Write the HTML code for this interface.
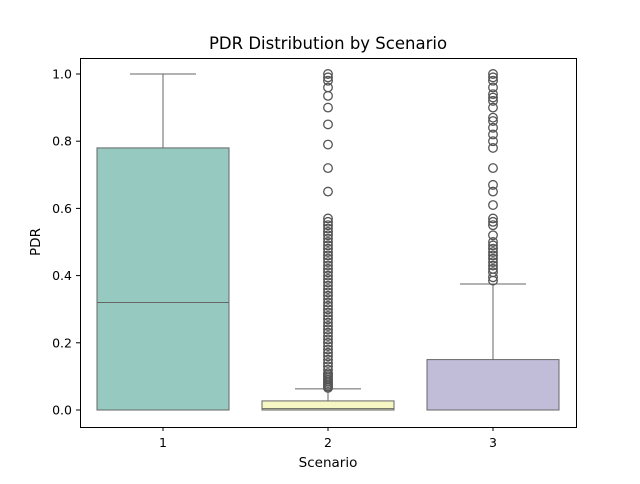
<!DOCTYPE html>
<html><head><meta charset="utf-8"><style>
body{margin:0;background:#fff;font-family:"DejaVu Sans","Liberation Sans",sans-serif}
</style></head><body>
<svg id="chart" width="640" height="480" xmlns="http://www.w3.org/2000/svg">
<rect width="640" height="480" fill="#fff"/>
<text x="328" y="49" text-anchor="middle" font-size="16.5">PDR Distribution by Scenario</text>
<text x="328" y="467" text-anchor="middle" font-size="13.5">Scenario</text>
<text x="40" y="242" text-anchor="middle" font-size="13.5" transform="rotate(-90 40 242)">PDR</text>
<g id="plot"></g>
<rect x="80.5" y="58.5" width="496" height="369" fill="none" stroke="#000" stroke-width="1"/>
</svg>
<script>
const categories = ["1","2","3"];
const q1 = [0, 0, 0];
const medians = [0.32, 0.004, 0.0];
const q3 = [0.78, 0.027, 0.15];
const whiskLo = [0, 0, 0];
const whiskHi = [1.0, 0.063, 0.375];
const colors = ["#96cac0","#f7f7c4","#c1bdd9"];
const yTicks = [0, 0.2, 0.4, 0.6, 0.8, 1.0];
const yTickLabels = ["0.0","0.2","0.4","0.6","0.8","1.0"];
const outliers2 = [0.066,0.07,0.075,0.08,0.085,0.09,0.095,0.1,0.105,0.11,0.12,0.13,0.14,0.15,0.16,0.17,0.18,0.19,0.2,0.21,0.22,0.23,0.24,0.25,0.26,0.27,0.28,0.29,0.3,0.31,0.32,0.33,0.34,0.35,0.36,0.37,0.38,0.39,0.4,0.41,0.42,0.43,0.44,0.45,0.46,0.47,0.48,0.49,0.5,0.51,0.52,0.53,0.54,0.55,0.56,0.57,0.65,0.72,0.79,0.85,0.9,0.935,0.96,0.98,0.99,1.0];
const outliers3 = [0.385,0.395,0.41,0.42,0.43,0.44,0.45,0.46,0.47,0.48,0.49,0.5,0.52,0.55,0.56,0.57,0.61,0.65,0.67,0.72,0.78,0.8,0.82,0.84,0.86,0.87,0.9,0.92,0.93,0.94,0.96,0.98,0.99,1.0];
const outliers = [[], outliers2, outliers3];

const NS="http://www.w3.org/2000/svg";
const g=document.getElementById('plot');
const y=v=>410-v*336;
const xc=i=>163+i*165;
const bw=132;
function mk(tag,attrs){const e=document.createElementNS(NS,tag);for(const k in attrs)e.setAttribute(k,attrs[k]);g.appendChild(e);return e;}
yTicks.forEach((t,i)=>{
  const l=mk('line',{x1:76,x2:80,y1:y(t),y2:y(t),stroke:'#000'});
  
  
  const tx=mk('text',{x:72,y:y(t)+4.5,'text-anchor':'end','font-size':12.5});
  tx.textContent=yTickLabels[i];
  
  
});
categories.forEach((c,i)=>{
  const x=xc(i);
  const l=mk('line',{x1:x,x2:x,y1:427,y2:431,stroke:'#000'});
  
  
  const tx=mk('text',{x:x,y:447,'text-anchor':'middle','font-size':12.5});
  tx.textContent=c;
  
  
  const st='#666';
  const w1=mk('line',{x1:x,x2:x,y1:y(q3[i]),y2:y(whiskHi[i]),stroke:st});
  
  
  const c1=mk('line',{x1:x-bw/4,x2:x+bw/4,y1:y(whiskHi[i]),y2:y(whiskHi[i]),stroke:st});
  
  
  const c2=mk('line',{x1:x-bw/4,x2:x+bw/4,y1:y(whiskLo[i]),y2:y(whiskLo[i]),stroke:st});
  
  
  const b=mk('rect',{x:x-bw/2,y:y(q3[i]),width:bw,height:Math.max(y(q1[i])-y(q3[i]),0.5),fill:colors[i],stroke:st});
  
  
  const m=mk('line',{x1:x-bw/2,x2:x+bw/2,y1:y(medians[i]),y2:y(medians[i]),stroke:st});
  
  
  outliers[i].forEach(v=>{
    const o=mk('circle',{cx:x,cy:y(v),r:4.3,fill:'none',stroke:'#555','stroke-width':1.3});
    
    
  });
});
</script>
</body></html>
